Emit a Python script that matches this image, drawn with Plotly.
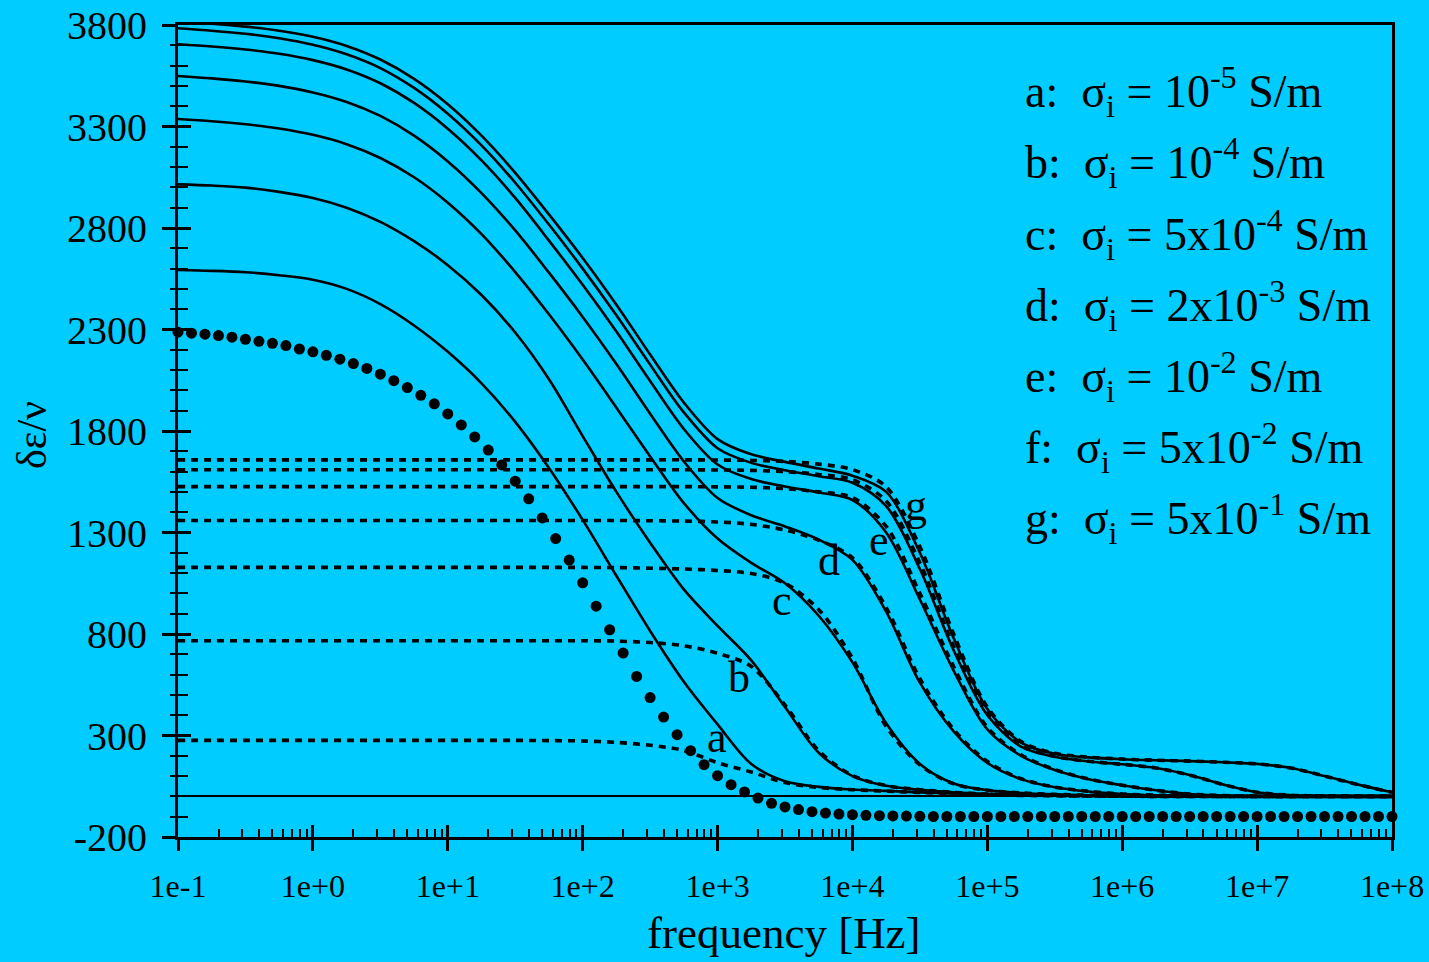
import plotly.graph_objects as go

# ---------------- data ----------------
freq = [1e-1, 1.778e-1, 3.162e-1, 5.623e-1, 1e0, 1.778e0, 3.162e0, 5.623e0,
        1e1, 1.778e1, 3.162e1, 5.623e1, 1e2, 1.778e2, 3.162e2, 5.623e2,
        1e3, 1.778e3, 3.162e3, 5.623e3, 1e4, 1.778e4, 3.162e4, 5.623e4,
        1e5, 1.778e5, 3.162e5, 5.623e5, 1e6, 1.778e6, 3.162e6, 5.623e6,
        1e7, 1.778e7, 3.162e7, 5.623e7, 1e8]

sol_a = [2593, 2589, 2582, 2567, 2545, 2500, 2425, 2320, 2190,
         2035, 1845, 1618, 1362, 1087, 815, 565, 355, 160, 75, 47, 34,
         27, 20, 13, 8, 5, 3, 2, 1, 0, 0, 0, 0, 0, 0, 0, 0]
sol_b = [3015, 3009, 2999, 2978, 2948, 2900, 2830, 2735, 2617,
         2470, 2285, 2055, 1775, 1500, 1250, 1020, 840, 670, 440, 215, 100,
         52, 32, 20, 12, 7, 4, 2, 1, 0, 0, 0, 0, 0, 0, 0, 0]
sol_c = [3337, 3326, 3311, 3290, 3259, 3213, 3145, 3050, 2925,
         2770, 2583, 2375, 2152, 1915, 1675, 1445, 1270, 1150, 1050, 890, 660,
         360, 160, 64, 31, 17, 10, 6, 4, 2, 1, 0, 0, 0, 0, 0, 0]
sol_d = [3549, 3537, 3522, 3500, 3468, 3421, 3352, 3255, 3128,
         2972, 2788, 2580, 2362, 2130, 1885, 1650, 1470, 1385, 1330, 1265, 1165,
         910, 560, 320, 165, 85, 45, 24, 12, 6, 3, 1, 0, 0, 0, 0, 0]
sol_e = [3705, 3694, 3679, 3658, 3627, 3581, 3513, 3416, 3289,
         3133, 2948, 2738, 2520, 2290, 2046, 1810, 1635, 1563, 1527, 1497, 1460,
         1300, 970, 620, 330, 200, 130, 85, 55, 30, 12, 4, 1, 0, 0, 0, 0]
sol_f = [3784, 3772, 3757, 3735, 3703, 3656, 3588, 3490, 3363,
         3207, 3023, 2817, 2600, 2370, 2127, 1892, 1715, 1643, 1607, 1577, 1545,
         1430, 1120, 720, 400, 245, 195, 172, 158, 140, 105, 58, 20, 6, 2, 0, 0]
sol_g = [3816, 3806, 3792, 3772, 3742, 3697, 3630, 3535, 3410,
         3255, 3072, 2867, 2652, 2422, 2177, 1940, 1760, 1685, 1648, 1615, 1580,
         1500, 1200, 780, 430, 265, 210, 192, 183, 178, 174, 168, 160, 140, 100, 58, 20]

dsh_a = [276, 276, 276, 276, 276, 276, 276, 276, 276,
         276, 276, 275, 273, 266, 252, 226, 166, 120, 68, 44, 33,
         26, 19, 13, 8, 5, 3, 2, 1, 0, 0, 0, 0, 0, 0, 0, 0]
dsh_b = [767, 767, 767, 767, 767, 767, 767, 767, 767,
         767, 767, 767, 767, 765, 758, 742, 705, 640, 450, 225, 103,
         53, 33, 20, 12, 7, 4, 2, 1, 0, 0, 0, 0, 0, 0, 0, 0]
dsh_c = [1128, 1128, 1128, 1128, 1128, 1128, 1128, 1128, 1128,
         1128, 1128, 1128, 1128, 1127, 1124, 1120, 1113, 1098, 1050, 920, 680,
         345, 155, 62, 30, 17, 10, 6, 4, 2, 1, 0, 0, 0, 0, 0, 0]
dsh_d = [1359, 1359, 1359, 1359, 1359, 1359, 1359, 1359, 1359,
         1359, 1359, 1359, 1359, 1359, 1358, 1356, 1352, 1340, 1312, 1262, 1175,
         930, 580, 330, 172, 87, 46, 25, 12, 6, 3, 1, 0, 0, 0, 0, 0]
dsh_e = [1526, 1526, 1526, 1526, 1526, 1526, 1526, 1526, 1526,
         1526, 1526, 1526, 1526, 1526, 1526, 1526, 1525, 1523, 1516, 1500, 1472,
         1330, 1000, 640, 340, 205, 132, 86, 55, 30, 12, 4, 1, 0, 0, 0, 0]
dsh_f = [1609, 1609, 1609, 1609, 1609, 1609, 1609, 1609, 1609,
         1609, 1609, 1609, 1609, 1609, 1609, 1609, 1608, 1606, 1600, 1586, 1560,
         1455, 1150, 740, 410, 250, 197, 173, 158, 140, 105, 58, 20, 6, 2, 0, 0]
dsh_g = [1658, 1658, 1658, 1658, 1658, 1658, 1658, 1658, 1658,
         1658, 1658, 1658, 1658, 1658, 1658, 1658, 1657, 1655, 1650, 1637, 1610,
         1525, 1230, 800, 440, 270, 212, 193, 184, 178, 174, 168, 160, 140, 100, 58, 20]

dot_freq = [
    1e-1, 1.259e-1, 1.585e-1, 1.995e-1, 2.512e-1, 3.162e-1, 3.981e-1, 5.012e-1, 6.310e-1, 7.943e-1,
    1e0, 1.259e0, 1.585e0, 1.995e0, 2.512e0, 3.162e0, 3.981e0, 5.012e0, 6.310e0, 7.943e0,
    1e1, 1.259e1, 1.585e1, 1.995e1, 2.512e1, 3.162e1, 3.981e1, 5.012e1, 6.310e1, 7.943e1,
    1e2, 1.259e2, 1.585e2, 1.995e2, 2.512e2, 3.162e2, 3.981e2, 5.012e2, 6.310e2, 7.943e2,
    1e3, 1.259e3, 1.585e3, 1.995e3, 2.512e3, 3.162e3, 3.981e3, 5.012e3, 6.310e3, 7.943e3,
    1e4, 1.259e4, 1.585e4, 1.995e4, 2.512e4, 3.162e4, 3.981e4, 5.012e4, 6.310e4, 7.943e4,
    1e5, 1.259e5, 1.585e5, 1.995e5, 2.512e5, 3.162e5, 3.981e5, 5.012e5, 6.310e5, 7.943e5,
    1e6, 1.259e6, 1.585e6, 1.995e6, 2.512e6, 3.162e6, 3.981e6, 5.012e6, 6.310e6, 7.943e6,
    1e7, 1.259e7, 1.585e7, 1.995e7, 2.512e7, 3.162e7, 3.981e7, 5.012e7, 6.310e7, 7.943e7,
    1e8]
dot_val = [
    2287, 2282, 2277, 2270, 2262, 2252, 2242, 2232, 2221, 2204,
    2190, 2173, 2154, 2132, 2108, 2080, 2048, 2014, 1976, 1934,
    1884, 1830, 1771, 1706, 1633, 1553, 1466, 1372, 1270, 1164,
    1052, 937, 821, 706, 591, 487, 391, 304, 225, 156,
    102, 58, 22, -8, -34, -52, -65, -75, -82, -87,
    -90, -93, -95, -96, -97, -98, -99, -99, -99, -99,
    -99, -99, -99, -99, -99, -99, -99, -99, -99, -99,
    -99, -99, -99, -99, -99, -99, -99, -99, -99, -99,
    -99, -99, -99, -99, -99, -99, -99, -99, -99, -99,
    -99]

x_tick_vals = [1e-1, 1e0, 1e1, 1e2, 1e3, 1e4, 1e5, 1e6, 1e7, 1e8]
x_tick_text = ["1e-1", "1e+0", "1e+1", "1e+2", "1e+3", "1e+4", "1e+5", "1e+6", "1e+7", "1e+8"]
y_tick_vals = [-200, 300, 800, 1300, 1800, 2300, 2800, 3300, 3800]
y_tick_text = ["-200", "300", "800", "1300", "1800", "2300", "2800", "3300", "3800"]

legend_lines = [
    "a:\u00a0\u00a0σ<sub>i</sub> = 10<sup>-5</sup> S/m",
    "b:\u00a0\u00a0σ<sub>i</sub> = 10<sup>-4</sup> S/m",
    "c:\u00a0\u00a0σ<sub>i</sub> = 5x10<sup>-4</sup> S/m",
    "d:\u00a0\u00a0σ<sub>i</sub> = 2x10<sup>-3</sup> S/m",
    "e:\u00a0\u00a0σ<sub>i</sub> = 10<sup>-2</sup> S/m",
    "f:\u00a0\u00a0σ<sub>i</sub> = 5x10<sup>-2</sup> S/m",
    "g:\u00a0\u00a0σ<sub>i</sub> = 5x10<sup>-1</sup> S/m",
]
curve_letters = ["a", "b", "c", "d", "e", "g"]
letter_logf = [2.994, 3.159, 3.478, 3.826, 4.197, 4.471]
letter_val = [289, 584, 964, 1161, 1259, 1432]

# ---------------- figure ----------------
W, H = 1429, 962
ML, MR, MT, MB = 178, 37, 25, 125
PW, PH = W - ML - MR, H - MT - MB
BG = "#00CCFF"
FONT = "Liberation Serif"


def px_to_paper_x(px):
    return (px - ML) / PW


def px_to_paper_y(py):
    return (H - MB - py) / PH


fig = go.Figure()

for ys in [sol_a, sol_b, sol_c, sol_d, sol_e, sol_f, sol_g]:
    fig.add_trace(go.Scatter(x=freq, y=ys, mode="lines",
                             line=dict(color="black", width=2.6, shape="spline", smoothing=0.9),
                             showlegend=False, hoverinfo="skip"))
for ys in [dsh_a, dsh_b, dsh_c, dsh_d, dsh_e, dsh_f, dsh_g]:
    fig.add_trace(go.Scatter(x=freq, y=ys, mode="lines",
                             line=dict(color="black", width=3.6, dash="7px,6px",
                                       shape="spline", smoothing=0.9),
                             showlegend=False, hoverinfo="skip"))

fig.add_trace(go.Scatter(x=dot_freq, y=dot_val, mode="markers",
                         marker=dict(color="black", size=11),
                         xaxis="x2", yaxis="y2", cliponaxis=False,
                         showlegend=False, hoverinfo="skip"))

minor_x = [m * 10.0 ** e for e in range(-1, 8) for m in range(2, 10)]

fig.update_layout(
    width=W, height=H,
    margin=dict(l=ML, r=MR, t=MT, b=MB, autoexpand=False),
    paper_bgcolor=BG, plot_bgcolor=BG,
    showlegend=False,
    xaxis=dict(type="log", range=[-1, 8], tickmode="array",
               tickvals=x_tick_vals, ticktext=x_tick_text,
               ticks="outside", ticklen=11, tickwidth=3, tickcolor="black",
               showline=True, linecolor="black", linewidth=3, mirror=True,
               showgrid=False, zeroline=False, ticklabelstandoff=8,
               tickfont=dict(family=FONT, size=32, color="black")),
    xaxis2=dict(type="log", range=[-1, 8], overlaying="x", anchor="y2", side="bottom",
                tickmode="array", tickvals=x_tick_vals, showticklabels=False,
                ticks="inside", ticklen=12, tickwidth=3, tickcolor="black",
                minor=dict(tickmode="array", tickvals=minor_x, ticks="inside",
                           ticklen=8, tickwidth=2, tickcolor="black"),
                showline=False, showgrid=False, zeroline=False),
    yaxis=dict(range=[-200, 3800], tickmode="array",
               tickvals=y_tick_vals, ticktext=y_tick_text,
               ticks="outside", ticklen=13, tickwidth=3, tickcolor="black",
               minor=dict(tick0=-200, dtick=100, ticks="outside", ticklen=5,
                          tickwidth=2, tickcolor="black"),
               showline=True, linecolor="black", linewidth=3, mirror=True,
               showgrid=False, zeroline=True, zerolinecolor="black", zerolinewidth=2,
               ticklabelstandoff=7,
               tickfont=dict(family=FONT, size=40, color="black")),
    yaxis2=dict(range=[-200, 3800], overlaying="y", anchor="x2", side="left",
                tickmode="array", tickvals=y_tick_vals, showticklabels=False,
                ticks="inside", ticklen=13, tickwidth=3, tickcolor="black",
                minor=dict(tick0=-200, dtick=100, ticks="inside", ticklen=10,
                           tickwidth=2, tickcolor="black"),
                showline=False, showgrid=False, zeroline=False),
)

ann = []
# axis titles
ann.append(dict(text="frequency [Hz]", xref="paper", yref="paper",
                x=px_to_paper_x(784), y=px_to_paper_y(933), xanchor="center", yanchor="middle",
                showarrow=False, font=dict(family=FONT, size=45, color="black")))
ann.append(dict(text="δε/ν", xref="paper", yref="paper", textangle=-90,
                x=px_to_paper_x(32), y=px_to_paper_y(435), xanchor="center", yanchor="middle",
                showarrow=False, font=dict(family=FONT, size=42, color="black")))
# legend text block
legend_y_px = [92, 163, 234, 305, 376, 447, 518]
for txt, py in zip(legend_lines, legend_y_px):
    ann.append(dict(text=txt, xref="paper", yref="paper",
                    x=px_to_paper_x(1023), y=px_to_paper_y(py), xanchor="left", yanchor="middle",
                    showarrow=False, font=dict(family=FONT, size=46, color="black")))
# curve letters
for t, lx, ly in zip(curve_letters, letter_logf, letter_val):
    ann.append(dict(text=t, xref="x", yref="y", x=lx, y=ly, xanchor="center", yanchor="middle",
                    showarrow=False, font=dict(family=FONT, size=44, color="black")))

fig.update_layout(annotations=ann)

fig.write_html("out.html")
